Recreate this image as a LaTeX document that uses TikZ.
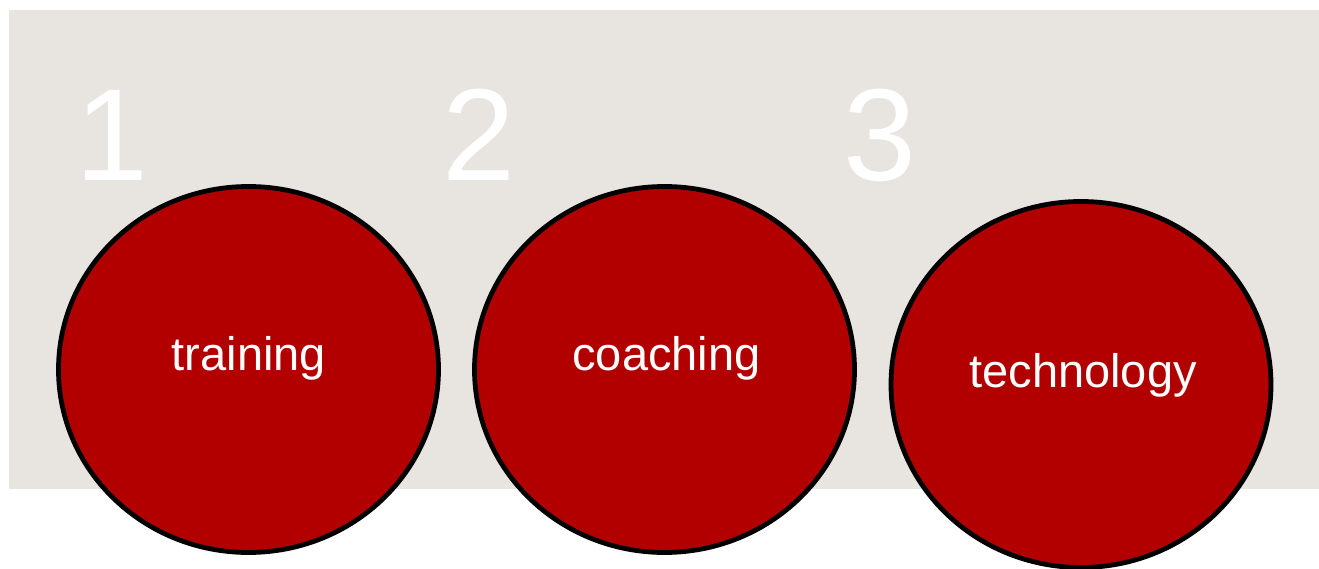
\documentclass[tikz,border=0pt]{standalone}
\usepackage{fontspec}
\setmainfont{Liberation Sans}
\usetikzlibrary{shapes.geometric}
\definecolor{bggray}{HTML}{E8E5E0}
\definecolor{circred}{HTML}{B20000}
\tikzset{
  bubble/.style={ellipse, draw=black, line width=4.8pt, fill=circred, inner sep=0pt,
    minimum width=380pt, minimum height=366pt},
  num/.style={text=white, font=\fontsize{131}{131}\selectfont, anchor=base west, inner sep=0pt},
  lbl/.style={text=white, font=\fontsize{47}{47}\selectfont, anchor=base, inner sep=0pt}
}
\begin{document}
\begin{tikzpicture}[x=1pt,y=-1pt]
\useasboundingbox (0,0) rectangle (1319,569);
\fill[bggray] (9,10) rectangle (1319,489);
\node[num] (n1) at (75,181) {1};
\node[num] (n2) at (442,181) {2};
\node[num] (n3) at (843,181) {3};
\node[bubble] (c1) at (248.5,369.5) {};
\node[bubble] (c2) at (664.5,369.5) {};
\node[bubble] (c3) at (1081,384.5) {};
\node[lbl] (t1) at (249,370) {training};
\node[lbl] (t2) at (666.5,370) {coaching};
\node[lbl] (t3) at (1083,387) {technology};
\end{tikzpicture}
\end{document}
